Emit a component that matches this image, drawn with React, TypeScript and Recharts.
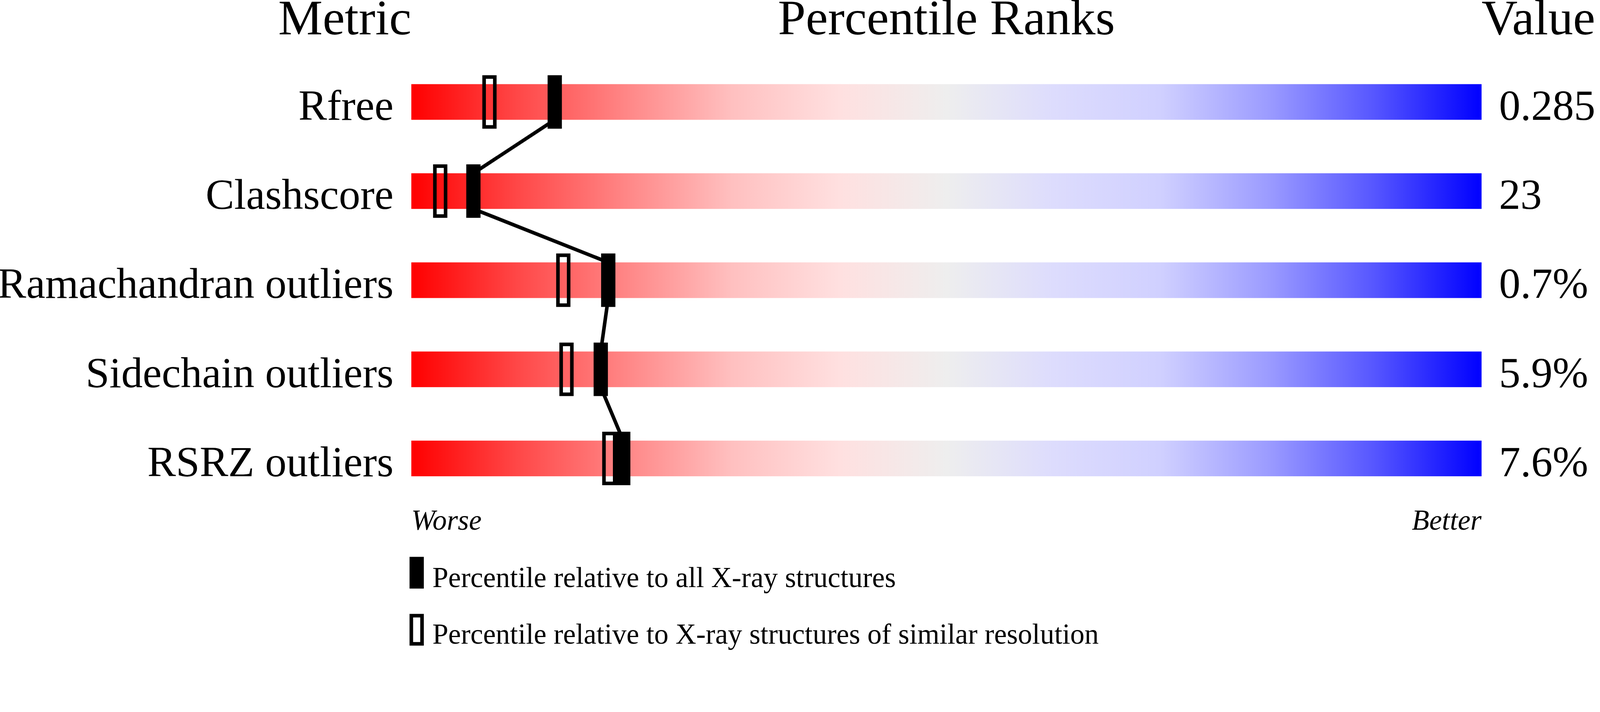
import React from 'react';
import { ComposedChart, Bar, Line, XAxis, YAxis } from 'recharts';

// wwPDB-style percentile slider
const metrics = ['Rfree', 'Clashscore', 'Ramachandran outliers', 'Sidechain outliers', 'RSRZ outliers'];
const valueLabels = ['0.285', '23', '0.7%', '5.9%', '7.6%'];
// percentile relative to all X-ray structures (filled marker)
const pctAll = [13.4, 5.8, 18.4, 17.7, 19.8];
// percentile relative to structures of similar resolution (open marker)
const pctSimilar = [7.3, 2.7, 14.2, 14.5, 18.5];

const gradientStops: Array<[string, string]> = [
    ['0%', '#ff0000'],
    ['10%', '#ff4848'],
    ['20%', '#ff8686'],
    ['30%', '#ffc0c0'],
    ['40%', '#ffe0e0'],
    ['50%', '#eeeeee'],
    ['60%', '#dddcfd'],
    ['70%', '#d0d0ff'],
    ['80%', '#9c9cff'],
    ['90%', '#5656ff'],
    ['100%', '#0000ff'],
];

const W = 4485;
const H = 1824;
const BAR = 100;
const MARK_W = 40;
const MARK_H = 150;
const FONT = "'Liberation Serif', 'Times New Roman', Times, serif";

const data = metrics.map((metric, i) => ({
    metric,
    full: 100,
    all: pctAll[i],
    similar: pctSimilar[i],
    valueText: valueLabels[i],
}));

// eslint-disable-next-line @typescript-eslint/no-explicit-any
const TrackShape = (props: any) => {
    const { x, y, width, height, payload } = props;
    return (
        <g>
            <rect x={x} y={y} width={width} height={height} fill="url(#pctGrad)" />
            <text x={x + width + 49} y={y + height} fontFamily={FONT} fontSize={120} fill="#000">
                {payload.valueText}
            </text>
        </g>
    );
};

// eslint-disable-next-line @typescript-eslint/no-explicit-any
const MetricTick = (props: any) => {
    const { x, y, payload } = props;
    return (
        <text x={x} y={y + BAR / 2} textAnchor="end" fontFamily={FONT} fontSize={120} fill="#000">
            {payload.value}
        </text>
    );
};

// eslint-disable-next-line @typescript-eslint/no-explicit-any
const FilledMarker = (props: any) => {
    const { cx, cy, index, points } = props;
    const prev = index > 0 && points ? points[index - 1] : null;
    return (
        <g key={`all-${index}`}>
            {prev && (
                <line
                    x1={prev.x}
                    y1={prev.y + BAR / 2}
                    x2={cx}
                    y2={cy - BAR / 2}
                    stroke="#000"
                    strokeWidth={10}
                />
            )}
            <rect x={cx - MARK_W / 2} y={cy - MARK_H / 2} width={MARK_W} height={MARK_H} fill="#000" />
        </g>
    );
};

// eslint-disable-next-line @typescript-eslint/no-explicit-any
const OpenMarker = (props: any) => {
    const { cx, cy, index } = props;
    return (
        <rect
            key={`sim-${index}`}
            x={cx - MARK_W / 2 + 5}
            y={cy - MARK_H / 2 + 5}
            width={MARK_W - 10}
            height={MARK_H - 10}
            fill="none"
            stroke="#000"
            strokeWidth={10}
        />
    );
};

const Overlay = () => (
    <svg
        width={W}
        height={H}
        style={{ position: 'absolute', left: 0, top: 0, pointerEvents: 'none' }}
        fontFamily={FONT}
    >
        <text x={1153} y={96} textAnchor="end" fontSize={140}>Metric</text>
        <text x={2653} y={96} textAnchor="middle" fontSize={140}>Percentile Ranks</text>
        <text x={4153} y={96} fontSize={140}>Value</text>

        <text x={1153} y={1486} fontSize={80} fontStyle="italic">Worse</text>
        <text x={4153} y={1486} textAnchor="end" fontSize={80} fontStyle="italic">Better</text>

        <rect x={1148} y={1562} width={40} height={89} fill="#000" />
        <text x={1212} y={1647} fontSize={80}>Percentile relative to all X-ray structures</text>
        <rect x={1153} y={1727} width={30} height={79} fill="none" stroke="#000" strokeWidth={10} />
        <text x={1212} y={1806} fontSize={80}>Percentile relative to X-ray structures of similar resolution</text>
    </svg>
);

const App: React.FC = () => {
    // fit the fixed-size drawing into the viewport (css px may differ from the window's device px)
    const fit = typeof window !== 'undefined'
        ? Math.min(window.innerWidth / W, window.innerHeight / H)
        : 1;

    return (
        <div
            style={{
                position: 'absolute',
                left: 0,
                top: 0,
                width: W,
                height: H,
                background: '#fff',
                transform: `scale(${fit})`,
                transformOrigin: '0 0',
            }}
        >
            <ComposedChart
                width={W}
                height={H}
                data={data}
                layout="vertical"
                margin={{ top: 161, right: 332, bottom: 413, left: 0 }}
            >
                <defs>
                    <linearGradient id="pctGrad" x1="0" y1="0" x2="1" y2="0">
                        {gradientStops.map(([off, col]) => (
                            <stop key={off} offset={off} stopColor={col} />
                        ))}
                    </linearGradient>
                </defs>
                <XAxis type="number" domain={[0, 100]} hide />
                <YAxis
                    type="category"
                    dataKey="metric"
                    width={1153}
                    axisLine={false}
                    tickLine={false}
                    tickSize={0}
                    tickMargin={50}
                    tick={<MetricTick />}
                    interval={0}
                />
                <Bar dataKey="full" barSize={BAR} shape={<TrackShape />} isAnimationActive={false} />
                <Line
                    dataKey="similar"
                    stroke="none"
                    dot={<OpenMarker />}
                    activeDot={false}
                    legendType="none"
                    isAnimationActive={false}
                />
                <Line
                    dataKey="all"
                    stroke="none"
                    dot={<FilledMarker />}
                    activeDot={false}
                    legendType="none"
                    isAnimationActive={false}
                />
            </ComposedChart>
            <Overlay />
        </div>
    );
};

export default App;
